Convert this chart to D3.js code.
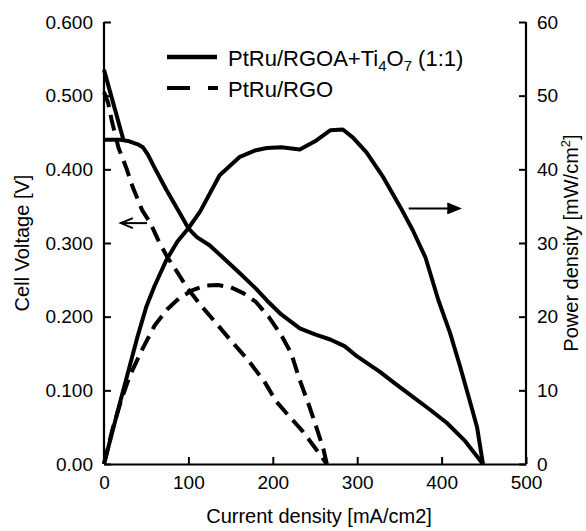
<!DOCTYPE html>
<html><head><meta charset="utf-8">
<script src="https://cdn.jsdelivr.net/npm/d3@7"></script>
<style>body{margin:0;background:#fff;} text{font-family:"Liberation Sans",Arial,sans-serif;}</style>
</head><body><svg id="c" width="586" height="531"></svg>
<script>
// ---- data ----
const xTicks = [0,100,200,300,400,500];
const vTicks = [0,0.1,0.2,0.3,0.4,0.5,0.6];
const vTickLabels = ["0.00","0.100","0.200","0.300","0.400","0.500","0.600"];
const pTicks = [0,10,20,30,40,50,60];
const legendLabels = ["PtRu/RGOA+Ti", "PtRu/RGO"];

// PtRu/RGOA+Ti4O7 (1:1) cell voltage [mA/cm2, V]
const voltTi = [[0,0.440],[10,0.440],[20,0.440],[30,0.438],[40,0.434],[46,0.430],[52,0.420],[60,0.402],[74,0.372],[87,0.346],[100,0.320],[110,0.308],[125,0.297],[145,0.276],[161,0.259],[180,0.238],[193,0.222],[210,0.203],[232,0.184],[250,0.176],[268,0.169],[285,0.160],[300,0.146],[327,0.125],[345,0.109],[366,0.091],[386,0.074],[406,0.056],[428,0.031],[449,0.000]];
// initial solid segment near OCV
const voltTiStart = [[0,0.535],[23,0.440]];
// PtRu/RGOA+Ti4O7 (1:1) power density [mA/cm2, mW/cm2]
const powerTi = [[0,0],[10,4.4],[20,8.8],[30,13.1],[40,17.4],[50,21.3],[60,24.2],[74,27.7],[87,30.2],[100,32.0],[114,34.3],[137,39.2],[161,41.7],[180,42.6],[193,42.9],[210,43.0],[232,42.7],[250,43.8],[268,45.3],[283,45.4],[295,44.3],[311,42.3],[331,38.9],[351,34.9],[366,31.7],[381,28.0],[396,22.3],[410,17.8],[422,13.2],[436,7.5],[442,5.0],[449,0]];
// PtRu/RGO cell voltage
const voltRGO = [[0,0.505],[5,0.490],[9,0.467],[17,0.430],[27,0.400],[34,0.376],[45,0.345],[55,0.327],[65,0.302],[75,0.281],[87,0.260],[98,0.240],[115,0.215],[130,0.195],[150,0.168],[170,0.142],[190,0.112],[204,0.085],[220,0.064],[235,0.045],[250,0.022],[264,0]];
// PtRu/RGO power density
const powerRGO = [[0,0],[10,4.7],[20,8.5],[30,11.8],[45,15.5],[60,18.8],[75,21.0],[90,22.6],[105,23.6],[120,24.2],[135,24.3],[150,24.0],[165,23.2],[180,22.0],[195,20.0],[210,17.5],[222,15.0],[231,11.7],[244,7.6],[253,4.5],[260,2.0],[264,0]];

// ---- layout ----
const L=104, R=526, T=22, B=464;
const svg = d3.select("#c");
const x = d3.scaleLinear().domain([0,500]).range([L,R]);
const yV = d3.scaleLinear().domain([0,0.6]).range([B,T]);
const yP = d3.scaleLinear().domain([0,60]).range([B,T]);

const fs = 19;
const gx = svg.append("g").attr("transform",`translate(0,${B})`)
  .call(d3.axisBottom(x).tickValues(xTicks).tickSizeInner(-7).tickSizeOuter(0).tickPadding(12));
const gl = svg.append("g").attr("transform",`translate(${L},0)`)
  .call(d3.axisLeft(yV).tickValues(vTicks).tickFormat((d,i)=>vTickLabels[i]).tickSizeInner(-7).tickSizeOuter(0).tickPadding(11));
const gr = svg.append("g").attr("transform",`translate(${R},0)`)
  .call(d3.axisRight(yP).tickValues(pTicks).tickSizeInner(-7).tickSizeOuter(0).tickPadding(11));
[gx,gl,gr].forEach(g=>{
  g.select(".domain").attr("stroke","#000").attr("stroke-width",2.2);
  g.selectAll(".tick line").attr("stroke","#000").attr("stroke-width",2);
  g.selectAll(".tick text").attr("font-size",fs).attr("fill","#000").attr("font-family","Liberation Sans, Arial, sans-serif");
});
gl.select(".domain").attr("d",`M0,${B}V${T}`);
gr.select(".domain").attr("d",`M0,${B}V${T}`);

// curves
const lineV = d3.line().x(d=>x(d[0])).y(d=>yV(d[1]));
const lineP = d3.line().x(d=>x(d[0])).y(d=>yP(d[1]));
function draw(data, gen, dash){
  const p = svg.append("path").datum(data).attr("d",gen)
    .attr("stroke","#000").attr("stroke-width",4).attr("fill","none").attr("stroke-linejoin","round");
  if(dash) p.attr("stroke-dasharray",dash);
}
draw(voltTi, lineV);
draw(voltTiStart, lineV);
draw(powerTi, lineP);
draw(voltRGO, lineV, "16,8");
draw(powerRGO, lineP, "16,8");

// arrows
function arrow(x1,x2,y,dir){
  svg.append("line").attr("x1",x1).attr("x2",x2).attr("y1",y).attr("y2",y).attr("stroke","#000").attr("stroke-width",2);
  const tip = dir<0?x1:x2, s = dir<0?1:-1;
  svg.append("path").attr("d",`M${tip+s*12},${y-5}L${tip},${y}L${tip+s*12},${y+5}`)
    .attr("fill",dir<0?"none":"#000").attr("stroke","#000").attr("stroke-width",2);
}
arrow(x(20), x(51), yV(0.327), -1);
arrow(x(361), x(421), yP(34.7), 1);

// legend
const lg = svg.append("g");
lg.append("line").attr("x1",167).attr("x2",217).attr("y1",57).attr("y2",57).attr("stroke","#000").attr("stroke-width",4.5);
lg.append("line").attr("x1",167).attr("x2",218).attr("y1",88).attr("y2",88).attr("stroke","#000").attr("stroke-width",4).attr("stroke-dasharray","23,18");
const t1 = lg.append("text").attr("x",228).attr("y",66).attr("font-size",22).attr("fill","#000");
t1.append("tspan").text(legendLabels[0]);
t1.append("tspan").attr("font-size",15).attr("dy",5).text("4");
t1.append("tspan").attr("dy",-5).text("O");
t1.append("tspan").attr("font-size",15).attr("dy",5).text("7");
t1.append("tspan").attr("dy",-5).text(" (1:1)");
lg.append("text").attr("x",228).attr("y",97).attr("font-size",22).attr("fill","#000").text(legendLabels[1]);

// axis titles
const tfs = 20;
svg.append("text").attr("x",(L+R)/2+4).attr("y",523).attr("text-anchor","middle").attr("font-size",tfs).text("Current density [mA/cm2]");
svg.append("text").attr("transform",`translate(29,${(T+B)/2}) rotate(-90)`).attr("text-anchor","middle").attr("font-size",tfs).text("Cell Voltage [V]");
const rt = svg.append("text").attr("transform",`translate(578,${(T+B)/2}) rotate(-90)`).attr("text-anchor","middle").attr("font-size",tfs);
rt.append("tspan").text("Power density [mW/cm");
rt.append("tspan").attr("font-size",13).attr("dy",-8).text("2");
rt.append("tspan").attr("dy",8).text("]");
</script></body></html>
